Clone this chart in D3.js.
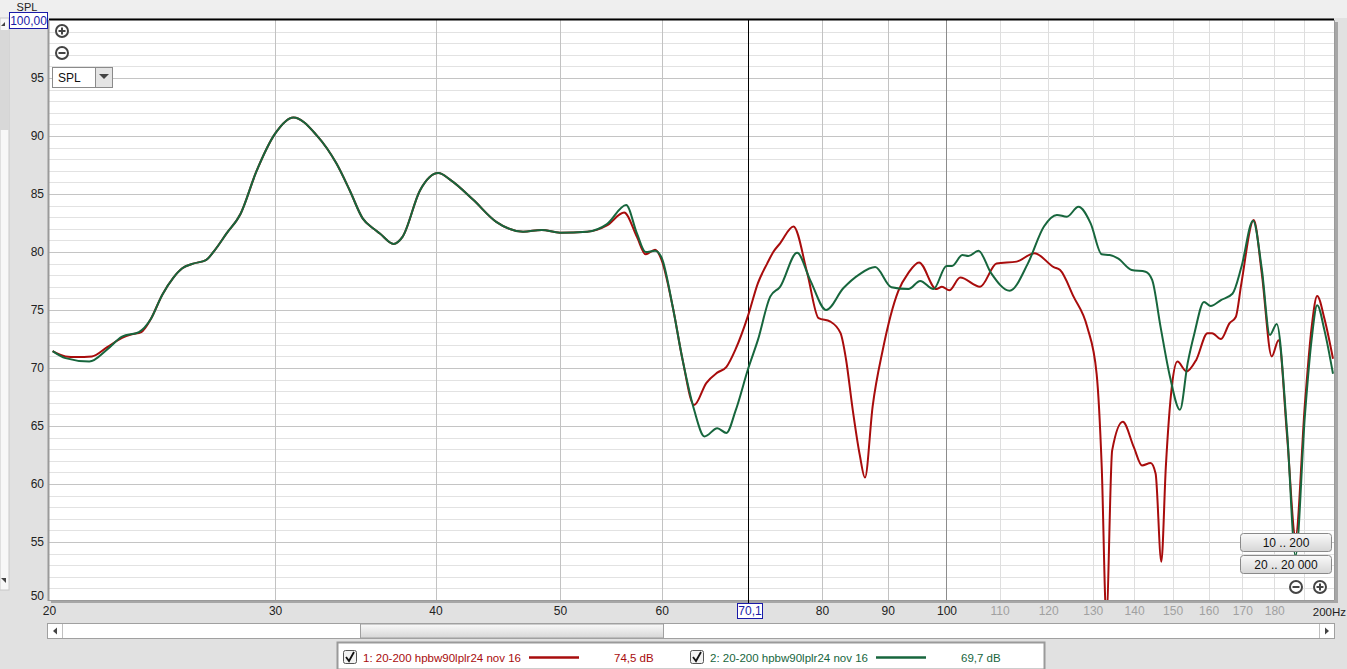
<!DOCTYPE html>
<html><head><meta charset="utf-8">
<script src="https://cdn.jsdelivr.net/npm/d3@7"></script>
<style>
html,body{margin:0;padding:0;background:#e1e1e1;}
svg{display:block;font-family:"Liberation Sans",Arial,sans-serif;}
</style></head><body>
<svg id="c" width="1347" height="669"></svg>
<script>
// ---- data ----
const redFreq = [20.13,20.6,21.0,21.6,22.2,22.8,23.2,23.6,24.0,24.5,25.0,25.4,25.9,26.5,26.9,27.5,28.2,29.0,30.0,31.0,32.3,33.5,34.3,35.1,35.8,36.2,37.1,37.7,38.9,40.2,41.1,42.8,44.6,46.8,48.4,50,52.5,54.4,56.1,57.4,58.3,59.3,60,61.2,62.3,63.6,65.0,66.3,67.4,68.5,70.1,71.3,72.5,73.3,74.2,76.0,77.9,79.5,81.2,82.7,83.5,84.5,85.6,86.4,87.6,89.2,91.7,93.4,95.2,98.2,99.2,100.5,102.5,106.2,109.4,113.4,117.1,121.2,122.6,125.6,128.7,130.9,132.1,133.2,134.6,137.2,139.9,142.0,144.2,145.5,147.0,148.2,149.8,151.3,153.8,156.5,159.7,161,163.6,166.1,168,169.7,173.5,176,179.2,181.4,184.2,187,190.2,192.5,194.4,197,200];
const redSpl  = [71.45,71.0,70.95,71.0,71.8,72.6,72.9,73.1,74.2,76.3,77.8,78.6,79.0,79.3,80.1,81.6,83.3,86.9,90.2,91.6,90.1,87.6,85.3,82.9,82.0,81.6,80.7,81.3,85.3,86.8,86.2,84.5,82.6,81.75,81.9,81.67,81.75,82.3,83.4,81.3,79.8,80.2,79.3,75.3,70.7,66.8,68.7,69.6,70.1,71.6,74.6,77.3,79.0,80.0,80.75,82.2,78.2,74.3,74.0,73.0,70.8,66.5,62.5,60.55,66.7,71.55,76.6,78.2,79.1,76.8,77.0,76.7,77.8,77.0,79.0,79.17,79.9,78.7,78.45,76.15,73.55,69.5,61.5,48.5,62.9,65.37,63.2,61.6,61.8,60.9,53.3,61.5,68.4,70.55,69.7,70.7,73.0,73.0,72.5,73.85,74.4,77.3,82.76,78.2,71.0,72.4,64.1,55.5,67.0,73.55,76.2,74.2,70.8];
const greenFreq = [20.13,20.6,21.5,22.2,22.8,23.5,24.0,24.5,25.0,25.4,25.9,26.5,26.9,27.5,28.2,29.0,30.0,31.0,32.3,33.5,34.3,35.1,35.8,36.2,37.1,37.7,38.9,40.2,41.1,42.8,44.6,46.8,48.4,50,52.5,54.4,56.3,57.4,58.3,59.3,60,61.2,62.3,63.6,64.8,66.3,67.4,68.5,70.1,71.3,72.9,74.2,76.5,78.3,80.6,83.1,85.6,88.0,90.6,93.4,95.4,97.7,100,101,102.9,104,105.9,108.3,112,115.7,119.1,121.9,124.1,126.7,129.5,132.1,134,136,139.4,142.9,144.6,146.8,149.3,152,154.1,156,158.7,160.6,163.6,167,169.7,173.3,176,178.6,180.8,184.2,187,190.2,192.5,194.4,197,200];
const greenSpl  = [71.45,70.85,70.55,71.6,72.7,73.1,74.2,76.3,77.8,78.6,79.0,79.3,80.1,81.6,83.3,86.9,90.2,91.6,90.1,87.6,85.3,82.9,82.0,81.6,80.7,81.3,85.3,86.8,86.2,84.5,82.6,81.75,81.9,81.67,81.75,82.4,84.05,81.6,80.0,80.1,79.5,75.3,70.7,66.4,64.1,64.8,64.4,66.3,70.0,72.4,76.15,77.0,79.94,77.6,75.0,76.87,78.1,78.7,76.96,76.8,77.5,76.8,78.8,78.8,79.74,79.65,80.1,78.2,76.66,79.0,82.2,83.2,83.04,83.9,82.47,79.8,79.74,79.45,78.45,78.3,77.6,73.55,69.25,66.4,70.4,73.0,75.7,75.35,75.86,76.4,78.7,82.7,78.6,72.84,73.8,64.5,53.8,66.0,72.5,75.4,73.2,69.5];
const seriesNames = ["1: 20-200 hpbw90lplr24 nov 16","2: 20-200 hpbw90lplr24 nov 16"];
const seriesLevels = ["74,5 dB","69,7 dB"];
const seriesColors = ["#a80c0c","#17663d"];
const xTicks = [20,30,40,50,60,80,90,100,110,120,130,140,150,160,170,180];
const yTicks = [50,55,60,65,70,75,80,85,90,95];
const cursorFreq = 70.1;
const cursorLabel = "70,1";
const topLabel = "100,00";

// ---- layout ----
const svg = d3.select("#c");
const L=49, R=1334, T=20, B=600;
const x = d3.scaleLog().domain([20,200]).range([L,1333]);
const y = d3.scaleLinear().domain([50,100]).range([B,T]);

// background
svg.append("rect").attr("width",1347).attr("height",669).attr("fill","#e1e1e1");
svg.append("rect").attr("width",1347).attr("height",18).attr("fill","#efefef");
// left strip
svg.append("rect").attr("x",0).attr("y",18).attr("width",9).attr("height",572).attr("fill","#f7f7f7").attr("stroke","#c8c8c8");
svg.append("rect").attr("x",0).attr("y",30).attr("width",9).attr("height",100).attr("fill","#d8d8d8");
svg.append("path").attr("d","M1,26 L5,22 L5,26 Z").attr("fill","#444");
svg.append("path").attr("d","M1,578 L6,578 L6,583 Z").attr("fill","#444");

// plot shadow + plot area
svg.append("rect").attr("x",L+2).attr("y",T+2).attr("width",R-L+2).attr("height",B-T+1).attr("fill","#a6a6a6");
svg.append("rect").attr("x",L).attr("y",T).attr("width",R-L).attr("height",B-T).attr("fill","#ffffff");

// grid
const g = svg.append("g");
d3.range(51,100).forEach(v=>{
  g.append("line").attr("x1",L).attr("x2",R).attr("y1",Math.round(y(v))+0.5).attr("y2",Math.round(y(v))+0.5)
   .attr("stroke", v%5===0 ? "#c4c4c4" : "#e2e2e2").attr("stroke-width",1);
});
const vGrid = [30,40,50,60,70,80,90,100,110,120,130,140,150,160,170,180,190];
vGrid.forEach(f=>{
  g.append("line").attr("x1",Math.round(x(f))+0.5).attr("x2",Math.round(x(f))+0.5).attr("y1",T).attr("y2",B)
   .attr("stroke", f===100 ? "#8c8c8c" : (f>100 ? "#dedede" : "#c2c2c2")).attr("stroke-width",1);
});
// borders
svg.append("line").attr("x1",L).attr("x2",R).attr("y1",T-0.5).attr("y2",T-0.5).attr("stroke","#000").attr("stroke-width",2);
svg.append("line").attr("x1",L-0.5).attr("x2",L-0.5).attr("y1",T).attr("y2",B+1).attr("stroke","#9a9a9a").attr("stroke-width",2);
svg.append("line").attr("x1",L).attr("x2",R).attr("y1",B+0.5).attr("y2",B+0.5).attr("stroke","#9a9a9a");
svg.append("line").attr("x1",R+0.5).attr("x2",R+0.5).attr("y1",T).attr("y2",B).attr("stroke","#9a9a9a");

// clip
svg.append("clipPath").attr("id","pc").append("rect").attr("x",L).attr("y",T).attr("width",R-L).attr("height",B-T);

// cursor line
svg.append("line").attr("x1",Math.round(x(cursorFreq))+0.5).attr("x2",Math.round(x(cursorFreq))+0.5)
  .attr("y1",T).attr("y2",603).attr("stroke","#000").attr("stroke-width",1);

// curves
const line = d3.line().x(d=>x(d[0])).y(d=>y(d[1])).curve(d3.curveMonotoneX);
const cg = svg.append("g").attr("clip-path","url(#pc)");
cg.append("path").datum(redFreq.map((f,i)=>[f,redSpl[i]])).attr("d",line)
  .attr("fill","none").attr("stroke",seriesColors[0]).attr("stroke-width",2).attr("stroke-linejoin","round");
cg.append("path").datum(greenFreq.map((f,i)=>[f,greenSpl[i]])).attr("d",line)
  .attr("fill","none").attr("stroke",seriesColors[1]).attr("stroke-width",2).attr("stroke-linejoin","round");

// y axis
const ya = svg.append("g").attr("transform",`translate(${L},0)`)
  .call(d3.axisLeft(y).tickValues(yTicks).tickSize(0).tickPadding(5).tickFormat(d3.format("d")));
ya.select(".domain").remove();
ya.selectAll("text").attr("font-size",12).attr("fill","#222").attr("font-family","Liberation Sans, Arial, sans-serif")
  .attr("dy",d=> d===50 ? "-0.05em" : "0.32em");

// x axis
const xa = svg.append("g").attr("transform",`translate(0,${B})`)
  .call(d3.axisBottom(x).tickValues(xTicks).tickSize(0).tickPadding(6).tickFormat(d=>String(d)));
xa.select(".domain").remove();
xa.selectAll("text").attr("font-size",12).attr("font-family","Liberation Sans, Arial, sans-serif")
  .attr("fill",d=> d>100 ? "#a0a0a0" : "#222").attr("dy","0.71em");
svg.append("text").attr("x",1346).attr("y",616).attr("text-anchor","end").attr("font-size",11.5).attr("fill","#222").text("200Hz");

// cursor label
svg.append("rect").attr("x",737.5).attr("y",603.5).attr("width",25).attr("height",15).attr("fill","#fff").attr("stroke","#1a1aa8");
svg.append("text").attr("x",750).attr("y",615).attr("text-anchor","middle").attr("font-size",12).attr("fill","#1a1aa8").text(cursorLabel);

// top labels
svg.append("text").attr("x",27).attr("y",11).attr("text-anchor","middle").attr("font-size",11).attr("fill","#222").text("SPL");
svg.append("rect").attr("x",9.5).attr("y",12.5).attr("width",38).attr("height",16).attr("fill","#fff").attr("stroke","#1a1aa8");
svg.append("text").attr("x",28.5).attr("y",25).attr("text-anchor","middle").attr("font-size",12).attr("fill","#1a1aa8").text(topLabel);

// zoom icons
function zoomIcon(cx,cy,plus){
  const gi = svg.append("g");
  gi.append("circle").attr("cx",cx).attr("cy",cy).attr("r",6).attr("fill","#fff").attr("stroke","#444").attr("stroke-width",2);
  gi.append("line").attr("x1",cx-3.5).attr("x2",cx+3.5).attr("y1",cy).attr("y2",cy).attr("stroke","#444").attr("stroke-width",2);
  if(plus) gi.append("line").attr("x1",cx).attr("x2",cx).attr("y1",cy-3.5).attr("y2",cy+3.5).attr("stroke","#444").attr("stroke-width",2);
}
zoomIcon(62,31,true); zoomIcon(62,53,false);
zoomIcon(1296,587,false); zoomIcon(1320,587,true);

// SPL dropdown
svg.append("rect").attr("x",52.5).attr("y",67.5).attr("width",60).attr("height",20).attr("fill","#fff").attr("stroke","#8a8a8a");
svg.append("rect").attr("x",95.5).attr("y",67.5).attr("width",17).attr("height",20).attr("fill","#e4e4e4").attr("stroke","#8a8a8a");
svg.append("path").attr("d","M99,74 L109,74 L104,79 Z").attr("fill","#444");
svg.append("text").attr("x",58).attr("y",82).attr("font-size",12).attr("fill","#111").text("SPL");

// range buttons
const grad = svg.append("defs").append("linearGradient").attr("id","btn").attr("x1",0).attr("x2",0).attr("y1",0).attr("y2",1);
grad.append("stop").attr("offset","0").attr("stop-color","#fafafa");
grad.append("stop").attr("offset","1").attr("stop-color","#d6d6d6");
[["10 .. 200",533],["20 .. 20 000",555]].forEach(([t,yy])=>{
  svg.append("rect").attr("x",1240.5).attr("y",yy+0.5).attr("width",91).attr("height",18).attr("rx",3).attr("fill","url(#btn)").attr("stroke","#8a8a8a");
  svg.append("text").attr("x",1286).attr("y",yy+14).attr("text-anchor","middle").attr("font-size",12).attr("fill","#111").text(t);
});

// horizontal scrollbar
svg.append("rect").attr("x",47.5).attr("y",623.5).attr("width",1287).attr("height",15).attr("fill","#fff").attr("stroke","#a0a0a0");
svg.append("rect").attr("x",360.5).attr("y",624).attr("width",303).attr("height",14).attr("fill","url(#btn)").attr("stroke","#a0a0a0");
svg.append("line").attr("x1",62.5).attr("x2",62.5).attr("y1",624).attr("y2",638).attr("stroke","#c0c0c0");
svg.append("line").attr("x1",1319.5).attr("x2",1319.5).attr("y1",624).attr("y2",638).attr("stroke","#c0c0c0");
svg.append("path").attr("d","M53,631 L57,627.5 L57,634.5 Z").attr("fill","#444");
svg.append("path").attr("d","M1329,631 L1325,627.5 L1325,634.5 Z").attr("fill","#444");

// legend
svg.append("rect").attr("x",337.5).attr("y",642.5).attr("width",707).attr("height",27).attr("fill","#fff").attr("stroke","#9a9a9a").attr("stroke-width",2);
const legX = [343,690];
seriesNames.forEach((n,i)=>{
  const lx = legX[i];
  svg.append("rect").attr("x",lx+0.5).attr("y",650.5).attr("width",13).attr("height",13).attr("rx",2).attr("fill","#f2f2f2").attr("stroke","#555");
  svg.append("path").attr("d",`M${lx+3},${657} L${lx+6},${661} L${lx+11},${652}`).attr("fill","none").attr("stroke","#111").attr("stroke-width",1.8);
  svg.append("text").attr("x",lx+20).attr("y",662).attr("font-size",11.5).attr("fill",seriesColors[i]).text(n);
  svg.append("line").attr("x1",lx+186).attr("x2",lx+236).attr("y1",657.5).attr("y2",657.5).attr("stroke",seriesColors[i]).attr("stroke-width",2.5);
  svg.append("text").attr("x",lx+271).attr("y",662).attr("font-size",11.5).attr("fill",seriesColors[i]).text(seriesLevels[i]);
});
</script>
</body></html>
